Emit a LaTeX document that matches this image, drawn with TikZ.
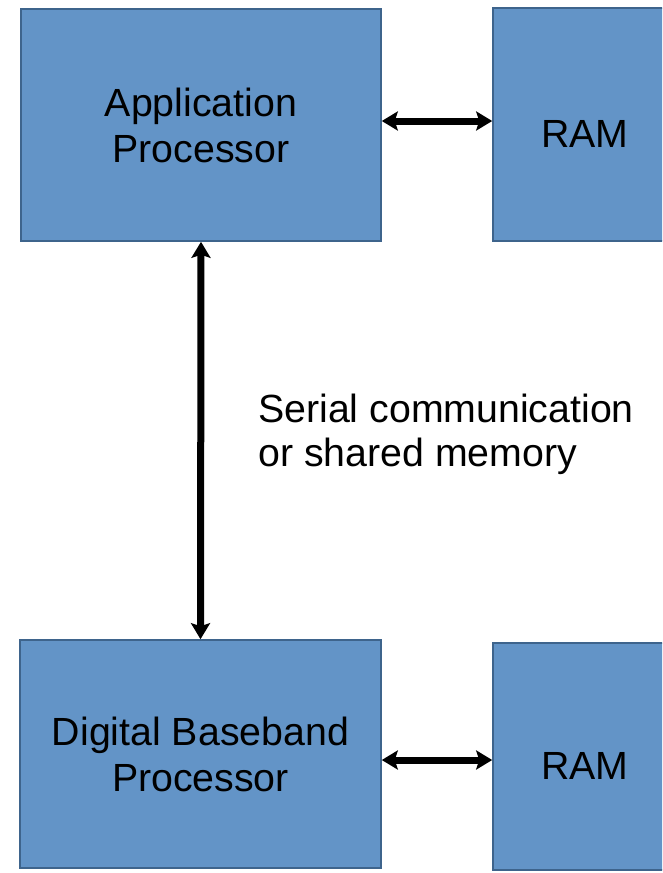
\documentclass[tikz,border=0pt]{standalone}
\usepackage{fontspec}
\setmainfont{Liberation Sans}
\usetikzlibrary{arrows.meta}
\definecolor{boxfill}{RGB}{99,148,199}
\definecolor{boxedge}{RGB}{62,100,140}
\tikzset{
  blk/.style={rectangle, fill=boxfill, draw=boxedge, line width=1.6pt, inner sep=0pt,
    align=center, font=\fontsize{39.3}{46}\selectfont},
  conn/.style={line width=7pt, {Stealth[length=16pt,width=19pt,inset=3pt]}-{Stealth[length=16pt,width=19pt,inset=3pt]}},
  lbl/.style={inner sep=0pt, align=left, anchor=north west, font=\fontsize{39.3}{44}\selectfont}
}
\begin{document}
\begin{tikzpicture}[x=1pt,y=-1pt]
\useasboundingbox (0,0) rectangle (662,873);
\clip (0,0) rectangle (662,873);
\fill[white] (0,0) rectangle (662,873);
\node[blk, minimum width=360pt, minimum height=232pt] (ap) at (201,125) {Application\\Processor};
\node[blk, minimum width=184pt, minimum height=233pt, text height=46pt, text depth=0pt] (ram1) at (585,124.5) {RAM};
\node[blk, minimum width=361pt, minimum height=228pt] (bb) at (200.5,754) {Digital Baseband\\Processor};
\node[blk, minimum width=184pt, minimum height=227pt, text height=46pt, text depth=0pt] (ram2) at (585,756.5) {RAM};
\node[lbl] (ser) at (258,394) {Serial communication\\or shared memory};
\draw[conn] ([yshift=4pt]ap.east) -- ([yshift=3.5pt]ram1.west);
\draw[conn] ([yshift=-6pt]bb.east) -- ([yshift=-3.5pt]ram2.west);
\draw[conn] (ap.south) -- (bb.north);
\end{tikzpicture}
\end{document}
